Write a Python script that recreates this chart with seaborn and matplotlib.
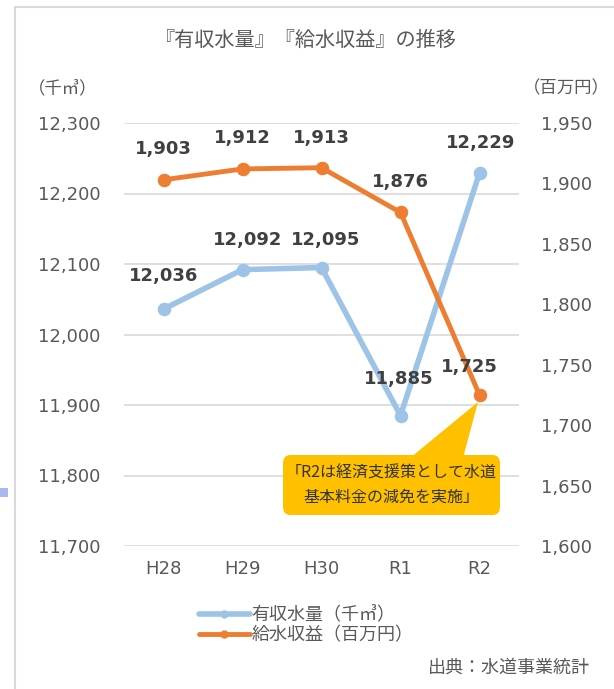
import numpy as np
import pandas as pd
import matplotlib.pyplot as plt
import seaborn as sns
from matplotlib.patches import Rectangle, FancyBboxPatch, Polygon
from matplotlib.lines import Line2D

sns.set_style("white")
plt.rcParams['font.family'] = ['Noto Sans CJK JP', 'DejaVu Sans']
NUM_FONT = ['DejaVu Sans', 'Noto Sans CJK JP']

years = ['H28', 'H29', 'H30', 'R1', 'R2']
water_volume = [12036, 12092, 12095, 11885, 12229]   # 千㎥
water_revenue = [1903, 1912, 1913, 1876, 1725]       # 百万円

left_ticks = [11700, 11800, 11900, 12000, 12100, 12200, 12300]
right_ticks = [1600, 1650, 1700, 1750, 1800, 1850, 1900, 1950]

BLUE = '#9DC3E6'
ORANGE = '#ED7D31'
GRID = '#D9D9D9'
TXT = '#595959'
LBL = '#404040'

df = pd.DataFrame({'year': years, 'volume': water_volume, 'revenue': water_revenue})
df['x'] = np.arange(len(years))

W, H = 614, 689
fig = plt.figure(figsize=(W / 100, H / 100), dpi=100)
ax = fig.add_axes([124 / W, 1 - 546 / H, 395 / W, 423 / H])
ax2 = ax.twinx()

# frame and small marker at left edge
fig.patches.append(Rectangle((15 / W, -0.1), 1.2, 1.1 - 7 / H, transform=fig.transFigure,
                             fill=False, edgecolor=GRID, linewidth=1.5, zorder=0))
fig.patches.append(Rectangle((0, 1 - 497 / H), 8 / W, 9 / H, transform=fig.transFigure,
                             facecolor='#A8B8F0', edgecolor='none'))

sns.lineplot(data=df, x='x', y='volume', ax=ax, color=BLUE, linewidth=4,
             marker='o', markersize=9, markeredgecolor=BLUE, zorder=3)
sns.lineplot(data=df, x='x', y='revenue', ax=ax2, color=ORANGE, linewidth=3.5,
             marker='o', markersize=9, markeredgecolor=ORANGE, zorder=3)

ax.set_xlim(-0.5, len(years) - 0.5)
ax.set_ylim(11700, 12300)
ax2.set_ylim(1600, 1950)
ax.set_xticks(df['x'])
ax.set_xticklabels(years, family=NUM_FONT)
ax.set_yticks(left_ticks)
ax.set_yticklabels([f'{v:,}' for v in left_ticks], family=NUM_FONT)
ax2.set_yticks(right_ticks)
ax2.set_yticklabels([f'{v:,}' for v in right_ticks], family=NUM_FONT)
ax.set_xlabel('')
ax.set_ylabel('')
ax2.set_ylabel('')

for a in (ax, ax2):
    for s in a.spines.values():
        s.set_visible(False)
    a.tick_params(length=0, labelsize=13, colors=TXT)
    a.set_facecolor('none')
ax.tick_params(axis='y', pad=17)
ax2.tick_params(axis='y', pad=16)
ax.tick_params(axis='x', pad=10)
ax.yaxis.grid(True, color=GRID, linewidth=1.2)
ax.set_zorder(1)
ax2.set_zorder(2)

# data labels (offsets in pixels from the marker)
vol_off = [(0, 33), (5, 30), (4, 28), (-2, 37), (1, 30)]
rev_off = [(0, 31), (0, 31), (0, 30), (0, 30), (-10, 28)]
for i, v in enumerate(water_volume):
    dx, dy = vol_off[i]
    ax2.annotate(f'{v:,}', (i, v), xycoords=ax.transData, xytext=(dx * 0.72, dy * 0.72),
                 textcoords='offset points', ha='center', va='center', fontsize=13,
                 fontweight='bold', color=LBL, family=NUM_FONT)
for i, v in enumerate(water_revenue):
    dx, dy = rev_off[i]
    ax2.annotate(f'{v:,}', (i, v), xytext=(dx * 0.72, dy * 0.72), textcoords='offset points',
                 ha='center', va='center', fontsize=13, fontweight='bold', color=LBL,
                 family=NUM_FONT)

# callout
fig.patches.append(Polygon([(410 / W, 1 - 458 / H), (463 / W, 1 - 458 / H), (478 / W, 1 - 402 / H)],
                           closed=True, transform=fig.transFigure, facecolor='#FFC000',
                           edgecolor='none', zorder=5))
fig.patches.append(FancyBboxPatch((283 / W, 1 - 515 / H), 217 / W, 60 / H,
                                  boxstyle='round,pad=0,rounding_size=0.012',
                                  transform=fig.transFigure, facecolor='#FFC000',
                                  edgecolor='none', zorder=5))
fig.text(391 / W, 1 - 485 / H, '「R2は経済支援策として水道\n基本料金の減免を実施」',
         ha='center', va='center', fontsize=11.5, color='#333333', linespacing=1.5, zorder=6)

# titles and units
fig.text(306 / W, 1 - 40 / H, '『有収水量』『給水収益』の推移', ha='center', va='center',
         fontsize=14.5, color=TXT)
fig.text(63 / W, 1 - 88 / H, '（千㎥）', ha='center', va='center', fontsize=12.5, color=TXT)
fig.text(566 / W, 1 - 88 / H, '（百万円）', ha='center', va='center', fontsize=12.5, color=TXT)

# legend
handles = [Line2D([], [], color=BLUE, linewidth=4, marker='o', markersize=5),
           Line2D([], [], color=ORANGE, linewidth=3.5, marker='o', markersize=5)]
fig.legend(handles, ['有収水量（千㎥）', '給水収益（百万円）'], loc='center left',
           bbox_to_anchor=(190 / W, 1 - 625 / H), frameon=False, fontsize=13,
           labelcolor=TXT, handlelength=2.8, handletextpad=0.1, labelspacing=0.1,
           borderpad=0)

fig.text(590 / W, 1 - 668 / H, '出典：水道事業統計', ha='right', va='center',
         fontsize=13, color=TXT)

fig.savefig('out.png', dpi=100)
